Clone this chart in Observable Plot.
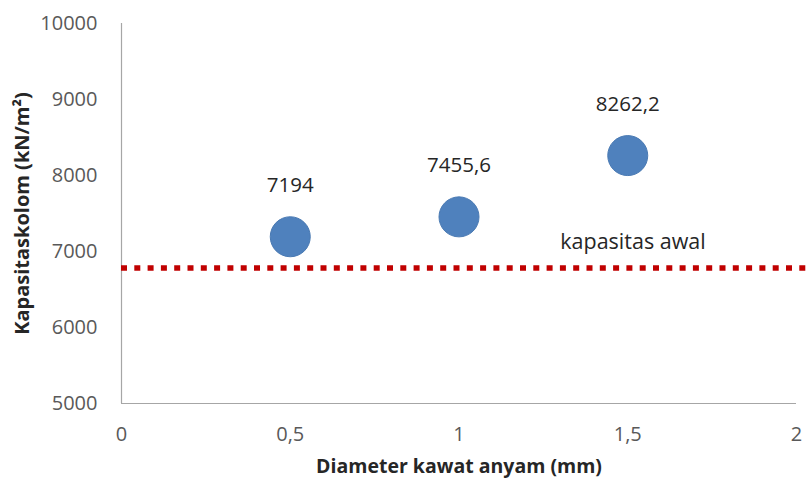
<!DOCTYPE html>
<html>
<head>
<meta charset="utf-8">
<script src="https://cdn.jsdelivr.net/npm/d3@7"></script>
<script src="https://cdn.jsdelivr.net/npm/@observablehq/plot@0.6"></script>
<style>
  html, body { margin: 0; padding: 0; background: #fff; }
  #chart { width: 809px; height: 479px; }
</style>
</head>
<body>
<div id="chart"></div>
<script>
// Data
const diameters = [0.5, 1, 1.5];
const capacities = [7194, 7455.6, 8262.2];
const pointLabels = ["7194", "7455,6", "8262,2"];
const initialCapacity = 6783;
const initialLabel = "kapasitas awal";
const initialLabelX = 1.3;
const initialLabelY = 7118;
const baselineExtent = [0, 2.04];
const xTicks = [0, 0.5, 1, 1.5, 2];
const yTicks = [5000, 6000, 7000, 8000, 9000, 10000];
const xTitle = "Diameter kawat anyam (mm)";
const yTitle = "Kapasitaskolom (kN/m²)";

const points = diameters.map((d, i) => ({x: d, y: capacities[i], label: pointLabels[i]}));
const fmt = v => String(v).replace(".", ",");
const font = "'Open Sans', sans-serif";

const chart = Plot.plot({
  width: 809,
  height: 479,
  marginLeft: 121,
  marginRight: 13,
  marginTop: 23,
  marginBottom: 76,
  style: {fontFamily: font, background: "#fff"},
  x: {domain: [0, 2], ticks: xTicks, tickFormat: fmt, label: null},
  y: {domain: [5000, 10000], ticks: yTicks, tickFormat: d => String(d), label: null},
  marks: [
    Plot.axisX({ticks: xTicks, tickFormat: fmt, tickSize: 0, tickPadding: 23, fontSize: 20, fill: "#595959", label: null}),
    Plot.axisY({ticks: yTicks, tickFormat: d => String(d), tickSize: 0, tickPadding: 24, fontSize: 20, fill: "#595959", label: null}),
    Plot.ruleY([5000], {stroke: "#a6a6a6", strokeWidth: 1.2}),
    Plot.ruleX([0], {stroke: "#a6a6a6", strokeWidth: 1.2}),
    Plot.ruleY([initialCapacity], {x1: baselineExtent[0], x2: baselineExtent[1], stroke: "#c00000", strokeWidth: 5.5, strokeDasharray: "6,7.3", clip: false}),
    Plot.text([initialLabel], {x: initialLabelX, y: initialLabelY, text: d => d, textAnchor: "start", fontSize: 21.5, fill: "#262626"}),
    Plot.dot(points, {x: "x", y: "y", r: 20, fill: "#4f81bd", stroke: "#4a7ab3", strokeWidth: 1}),
    Plot.text(points, {x: "x", y: "y", text: "label", dy: -51, fontSize: 20.5, fill: "#262626"}),
    Plot.text([xTitle], {frameAnchor: "bottom", textAnchor: "middle", lineAnchor: "middle", text: d => d, dy: 63, fontSize: 19.5, fontWeight: "bold", fill: "#262626"}),
    Plot.text([yTitle], {frameAnchor: "left", textAnchor: "middle", lineAnchor: "middle", text: d => d, dx: -99, rotate: -90, fontSize: 20, fontWeight: "bold", fill: "#262626"})
  ]
});
document.getElementById("chart").appendChild(chart);
</script>
</body>
</html>
